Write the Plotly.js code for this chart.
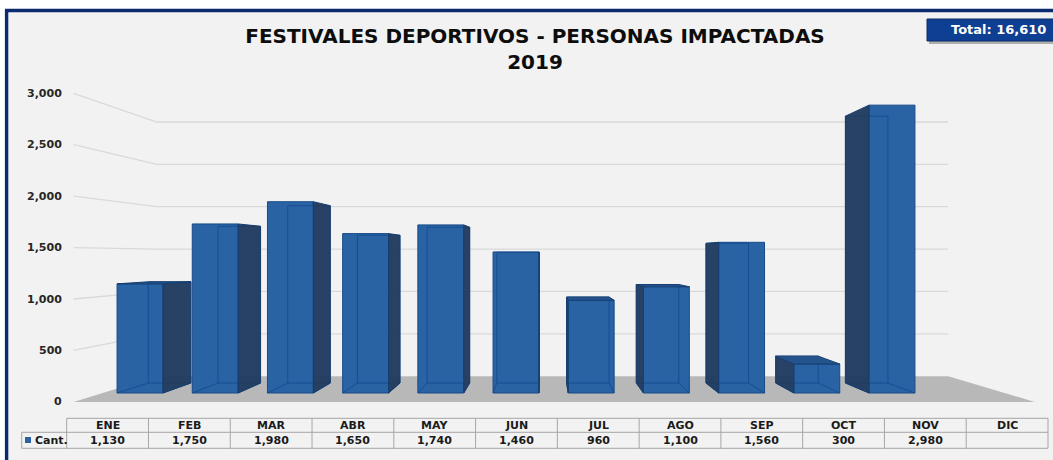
<!DOCTYPE html>
<html><head><meta charset="utf-8">
<script src="https://cdn.plot.ly/plotly-3.0.1.min.js"></script>
<style>html,body{margin:0;padding:0;background:#fff;} #chart{width:1053px;height:460px;}</style>
</head><body><div id="chart"></div>
<script>
// ---- data ----
const months = ['ENE','FEB','MAR','ABR','MAY','JUN','JUL','AGO','SEP','OCT','NOV','DIC'];
const cant = [1130,1750,1980,1650,1740,1460,960,1100,1560,300,2980,null];
const yTicks = [0,500,1000,1500,2000,2500,3000];
const seriesName = 'Cant.';
const titleLines = ['FESTIVALES DEPORTIVOS - PERSONAS IMPACTADAS','2019'];
const totalLabel = 'Total: ';

// ---- layout geometry ----
const W=1053,H=460;
const CAT0_PX=140, PX_PER_CAT=75.2, BASE_PX=393, PX_PER_UNIT=0.0966;
const xr=[-CAT0_PX/PX_PER_CAT, (W-CAT0_PX)/PX_PER_CAT];
const yr=[-(H-BASE_PX)/PX_PER_UNIT, BASE_PX/PX_PER_UNIT];
const VP=[5.386,1418];               // vanishing point in data space
const K_FRONT=-0.065, K_WALL=0.123, K_DEPTH=0.073, HALF=0.305;
const nCat = months.length;
function proj(k,x,y){return [x+k*(VP[0]-x), y+k*(VP[1]-y)];}
function path(pts,close){return 'M '+pts.map(p=>p[0].toFixed(4)+','+p[1].toFixed(2)).join(' L ')+(close?' Z':'');}
const px=(x)=>x/W, py=(y)=>1-y/H;
const FONT='DejaVu Sans, Verdana, sans-serif';
const fmt=(v)=>v==null?'':v.toLocaleString('en-US');

const shapes=[];
const annotations=[];

// chart background + frame
shapes.push({type:'rect',xref:'paper',yref:'paper',x0:px(6.6),x1:px(1075),y0:py(490),y1:py(10.5),
  fillcolor:'#f2f2f2',line:{color:'#0b2b6e',width:3.4},layer:'below'});

// perspective gridlines
yTicks.forEach(v=>{
  if(v===0) return;
  const a=proj(K_FRONT,-0.5,v), b=proj(K_WALL,-0.5,v), c=proj(K_WALL,nCat-0.5,v);
  shapes.push({type:'path',xref:'x',yref:'y',path:path([a,b,c],false),
    line:{color:'#d9d9d9',width:1.3},fillcolor:'rgba(0,0,0,0)',layer:'below'});
});
// floor
shapes.push({type:'path',xref:'x',yref:'y',layer:'below',
  path:path([proj(K_FRONT,-0.5,0),proj(K_FRONT,nCat-0.5,0),proj(K_WALL,nCat-0.5,0),proj(K_WALL,-0.5,0)],true),
  fillcolor:'#b8b8b8',line:{width:0}});

// y tick labels at the front edge
yTicks.forEach(v=>{
  const p=proj(K_FRONT,-0.5,v);
  annotations.push({xref:'x',yref:'y',x:p[0],y:p[1],xanchor:'right',yanchor:'middle',xshift:-10,
    showarrow:false,text:'<b>'+fmt(v)+'</b>',font:{family:FONT,size:11,color:'#262626'}});
});

// 3D faces of each bar
cant.forEach((v,i)=>{
  if(v==null) return;
  const L=i-HALF, R=i+HALF;
  const bl0=proj(K_DEPTH,L,0), br0=proj(K_DEPTH,R,0), brv=proj(K_DEPTH,R,v), blv=proj(K_DEPTH,L,v);
  shapes.push({type:'path',xref:'x',yref:'y',layer:'above',path:path([bl0,br0,brv,blv],true),
    fillcolor:'rgba(0,0,0,0)',line:{color:'rgba(18,70,140,0.75)',width:1}});
  shapes.push({type:'path',xref:'x',yref:'y',layer:'above',path:path([[L,0],bl0],false)+' '+path([[R,0],br0],false),
    fillcolor:'rgba(0,0,0,0)',line:{color:'rgba(18,70,140,0.75)',width:1}});
  let side=null;
  if(R<VP[0]) side=[[R,0],[R,v],brv,br0];
  else if(L>VP[0]) side=[[L,0],[L,v],blv,bl0];
  if(side) shapes.push({type:'path',xref:'x',yref:'y',layer:'above',path:path(side,true),
    fillcolor:'rgba(33,60,96,0.97)',line:{color:'#163e70',width:1}});
  if(v<VP[1]) shapes.push({type:'path',xref:'x',yref:'y',layer:'above',
    path:path([[L,v],[R,v],brv,blv],true),fillcolor:'#25538c',line:{color:'#163e70',width:1}});
});

// total box
const total=cant.reduce((s,v)=>s+(v||0),0);
shapes.push({type:'rect',xref:'paper',yref:'paper',x0:px(929),x1:px(1070),y0:py(44),y1:py(22),
  fillcolor:'rgba(0,0,0,0.28)',line:{width:0}});
shapes.push({type:'rect',xref:'paper',yref:'paper',x0:px(927),x1:px(1070),y0:py(41),y1:py(19),
  fillcolor:'#0f3f93',line:{color:'#0a2d6b',width:1}});
annotations.push({xref:'paper',yref:'paper',x:px(998),y:py(30),xanchor:'center',yanchor:'middle',
  showarrow:false,text:'<b>'+totalLabel+fmt(total)+'</b>',font:{family:FONT,size:13,color:'#ffffff'}});

// data table
const T_LEFT=66.7, T_RIGHT=1048, T_KEY=21.7, T_TOP=418.3, T_MID=432.3, T_BOT=448.3;
const colW=(T_RIGHT-T_LEFT)/nCat;
const tl={color:'#a6a6a6',width:1};
shapes.push({type:'line',xref:'paper',yref:'paper',x0:px(T_LEFT),x1:px(T_RIGHT),y0:py(T_TOP),y1:py(T_TOP),line:tl});
[T_MID,T_BOT].forEach(y=>shapes.push({type:'line',xref:'paper',yref:'paper',x0:px(T_KEY),x1:px(T_RIGHT),y0:py(y),y1:py(y),line:tl}));
shapes.push({type:'line',xref:'paper',yref:'paper',x0:px(T_KEY),x1:px(T_KEY),y0:py(T_MID),y1:py(T_BOT),line:tl});
for(let j=0;j<=nCat;j++){
  const x=T_LEFT+j*colW;
  shapes.push({type:'line',xref:'paper',yref:'paper',x0:px(x),x1:px(x),y0:py(T_TOP),y1:py(T_BOT),line:tl});
}
months.forEach((m,j)=>{
  const xc=T_LEFT+(j+0.5)*colW;
  annotations.push({xref:'paper',yref:'paper',x:px(xc),y:py(425.5),xanchor:'center',yanchor:'middle',showarrow:false,
    text:'<b>'+m+'</b>',font:{family:FONT,size:11,color:'#1a1a1a'}});
  if(cant[j]!=null) annotations.push({xref:'paper',yref:'paper',x:px(xc),y:py(440.5),xanchor:'center',yanchor:'middle',showarrow:false,
    text:'<b>'+fmt(cant[j])+'</b>',font:{family:FONT,size:11,color:'#1a1a1a'}});
});
shapes.push({type:'rect',xref:'paper',yref:'paper',x0:px(25),x1:px(31),y0:py(443),y1:py(437),fillcolor:'#2a63a4',line:{width:0}});
annotations.push({xref:'paper',yref:'paper',x:px(32.5),y:py(440.5),xanchor:'left',yanchor:'middle',showarrow:false,
  text:'<b>'+seriesName+'</b>',font:{family:FONT,size:11,color:'#1a1a1a'}});

const trace={type:'bar',x:months,y:cant,name:seriesName,width:HALF*2,
  marker:{color:'#2a63a4',line:{color:'#174a88',width:1}},hoverinfo:'skip'};

const layout={
  width:W,height:H,margin:{l:0,r:0,t:0,b:0},
  paper_bgcolor:'#ffffff',plot_bgcolor:'rgba(0,0,0,0)',
  showlegend:false,
  title:{text:'<b>'+titleLines.join('<br>')+'</b>',font:{family:FONT,size:20,color:'#0d0d0d'},
    x:px(535),xanchor:'center',xref:'paper',y:py(43),yanchor:'middle',yref:'container'},
  xaxis:{type:'category',range:xr,visible:false,fixedrange:true},
  yaxis:{range:yr,visible:false,fixedrange:true},
  shapes:shapes,annotations:annotations
};
Plotly.newPlot('chart',[trace],layout,{displayModeBar:false,staticPlot:true});
</script></body></html>
